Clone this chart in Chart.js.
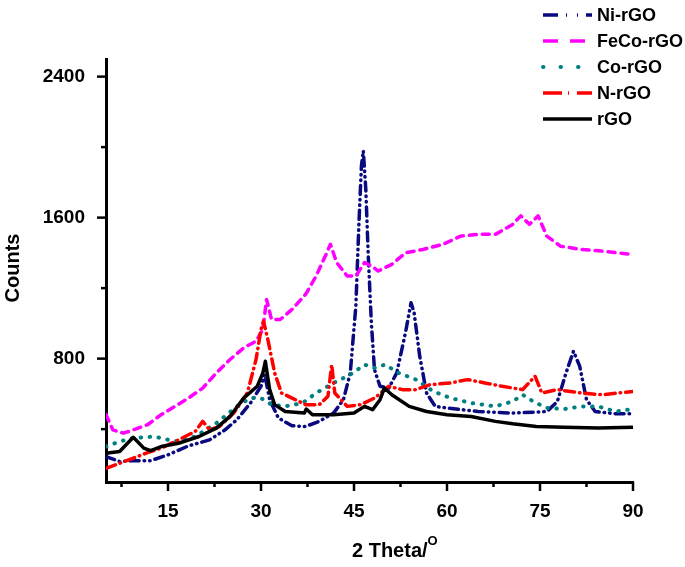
<!DOCTYPE html>
<html>
<head>
<meta charset="utf-8">
<script src="https://cdn.jsdelivr.net/npm/chart.js@4.4.1/dist/chart.umd.min.js"></script>
<style>
  html, body { margin: 0; padding: 0; background: #fff; }
  #wrap { width: 685px; height: 567px; }
</style>
</head>
<body>
<div id="wrap"><canvas id="xrd" width="685" height="567"></canvas></div>
<script>
// 2 Theta values and counts
const niX = [5, 7.2, 9.4, 12.2, 15, 18.3, 21.7, 24.2, 26.1, 28.3, 30, 30.6, 31.4, 32.8, 35, 37.2, 39.4, 41.7, 43.3, 44.4, 45.3, 45.8, 46.2, 46.5, 46.9, 47.3, 47.8, 48.3, 49.2, 50.6, 51.9, 53.3, 54.2, 54.7, 55.6, 56.7, 58.1, 60, 65, 70.6, 76.1, 77.8, 79.2, 80.4, 81.4, 82.5, 83.9, 87.2, 90];
const niY = [244, 216, 221, 221, 254, 305, 339, 396, 453, 548, 643, 709, 567, 463, 419, 415, 444, 491, 567, 719, 1099, 1571, 1894, 1979, 1763, 1383, 1003, 738, 643, 633, 719, 947, 1117, 1060, 814, 605, 529, 520, 500, 491, 500, 557, 719, 842, 757, 567, 500, 487, 487];

const fecoX = [5, 6.1, 7.8, 9.4, 11.7, 13.9, 16.1, 18.3, 20.6, 22.8, 25, 27.2, 29.2, 30.3, 30.9, 31.7, 33.1, 35, 37.2, 38.9, 40.6, 41.2, 42.2, 43.9, 45.3, 46.7, 47.8, 48.9, 51.1, 53.3, 56.1, 59.4, 62.2, 65, 67.8, 70.6, 71.9, 73.3, 74.7, 76.1, 78.3, 81.7, 85, 90];
const fecoY = [482, 396, 377, 396, 425, 482, 529, 576, 633, 719, 795, 861, 899, 966, 1136, 1022, 1022, 1079, 1165, 1269, 1400, 1449, 1345, 1269, 1269, 1345, 1326, 1297, 1335, 1400, 1419, 1449, 1495, 1505, 1505, 1562, 1610, 1562, 1610, 1495, 1438, 1419, 1410, 1391];

const coX = [5, 7.2, 9.4, 12.8, 16.1, 19.4, 22.8, 26.1, 28.3, 30, 31.7, 33.9, 36.7, 38.9, 41.7, 44.4, 46.7, 48.3, 50, 52.2, 55, 57.8, 60.6, 63.9, 67.8, 70.6, 72.2, 73.9, 76.1, 78.9, 81.7, 84.4, 87.2, 90];
const coY = [301, 330, 349, 358, 330, 358, 434, 529, 576, 576, 539, 529, 548, 605, 662, 709, 766, 747, 766, 719, 681, 614, 576, 548, 529, 557, 595, 557, 520, 514, 529, 529, 500, 514];

const nX = [5, 7.2, 9.4, 11.7, 13.9, 16.7, 19.4, 20.6, 21.7, 23.3, 25.6, 27.8, 29.2, 30, 30.4, 31.1, 32.2, 33.3, 35, 37.2, 39.4, 40.8, 41.4, 41.9, 43.9, 46.1, 48.3, 50.6, 52.8, 55, 57.2, 60.6, 63.3, 66.1, 68.9, 72.2, 74.2, 75.3, 77.8, 81.7, 85, 90];
const nY = [178, 206, 235, 267, 292, 339, 387, 444, 396, 415, 491, 605, 795, 966, 1013, 909, 719, 605, 576, 539, 539, 586, 766, 605, 529, 539, 576, 643, 624, 624, 652, 662, 681, 662, 643, 624, 700, 605, 624, 605, 595, 614];

const rgoX = [5, 7.2, 9.4, 11.1, 12.2, 13.9, 16.7, 20, 22.8, 25, 27.2, 29.4, 30.3, 30.7, 31.4, 32.2, 33.9, 37, 37.3, 38.3, 41.7, 45, 46.7, 48, 49.2, 49.9, 51.1, 53.9, 56.7, 60, 63.9, 67.8, 70.6, 74.4, 78.9, 84.4, 90];
const rgoY = [263, 273, 354, 292, 278, 301, 320, 358, 406, 472, 576, 643, 719, 785, 624, 539, 500, 491, 514, 482, 482, 491, 529, 510, 567, 633, 595, 529, 500, 482, 472, 444, 430, 415, 411, 406, 411];

const seriesNames = ['Ni-rGO', 'FeCo-rGO', 'Co-rGO', 'N-rGO', 'rGO'];
const xMajorTicks = [15, 30, 45, 60, 75, 90];
const xMinorTicks = [7.5, 22.5, 37.5, 52.5, 67.5, 82.5];
const yMajorTicks = [800, 1600, 2400];
const yMinorTicks = [400, 1200, 2000];

const pts = (xs, ys) => xs.map((x, i) => ({ x: x, y: ys[i] }));

// line look per series (plot pattern + legend pattern)
const styles = [
  { color: '#0a0a80', dash: [9, 5, 0.5, 5, 0.5, 5], legendDash: [15, 8, 1, 10, 1, 8] },
  { color: '#ff00ff', dash: [7, 6], legendDash: [15, 12] },
  { color: '#008080', dash: [0.5, 8.5], legendDash: [0.5, 17] },
  { color: '#ff0000', dash: [10, 5, 0.5, 5], legendDash: [19, 6, 1, 8] },
  { color: '#000000', dash: [], legendDash: [] }
];

const allData = [pts(niX, niY), pts(fecoX, fecoY), pts(coX, coY), pts(nX, nY), pts(rgoX, rgoY)];

const datasets = allData.map((d, i) => ({
  label: seriesNames[i],
  data: d,
  borderColor: styles[i].color,
  borderWidth: i === 2 ? 4 : 3.5,
  borderDash: styles[i].dash,
  borderCapStyle: styles[i].dash.length ? 'round' : 'butt',
  borderJoinStyle: 'round',
  pointRadius: 0,
  tension: 0,
  fill: false
}));
// draw order: rGO last on top like the original
datasets.reverse();

const FONT = '"Liberation Sans", Arial, sans-serif';

const decorPlugin = {
  id: 'decor',
  afterDraw: (chart) => {
    const { ctx, chartArea, scales: { x, y } } = chart;
    ctx.save();
    ctx.strokeStyle = '#000';
    ctx.lineWidth = 2.5;
    ctx.lineCap = 'butt';
    // x ticks, pointing down
    xMajorTicks.forEach(v => {
      const px = x.getPixelForValue(v);
      ctx.beginPath(); ctx.moveTo(px, chartArea.bottom); ctx.lineTo(px, chartArea.bottom + 9); ctx.stroke();
    });
    xMinorTicks.forEach(v => {
      const px = x.getPixelForValue(v);
      ctx.beginPath(); ctx.moveTo(px, chartArea.bottom); ctx.lineTo(px, chartArea.bottom + 5); ctx.stroke();
    });
    // y ticks, pointing left
    yMajorTicks.forEach(v => {
      const py = y.getPixelForValue(v);
      ctx.beginPath(); ctx.moveTo(chartArea.left, py); ctx.lineTo(chartArea.left - 9, py); ctx.stroke();
    });
    yMinorTicks.forEach(v => {
      const py = y.getPixelForValue(v);
      ctx.beginPath(); ctx.moveTo(chartArea.left, py); ctx.lineTo(chartArea.left - 5, py); ctx.stroke();
    });

    // axis titles
    ctx.fillStyle = '#000';
    ctx.font = 'bold 20px ' + FONT;
    ctx.textBaseline = 'middle';
    ctx.textAlign = 'left';
    const t = '2 Theta/';
    ctx.fillText(t, 352, 551);
    const tw = ctx.measureText(t).width;
    ctx.font = 'bold 13px ' + FONT;
    ctx.fillText('O', 352 + tw, 541);

    ctx.save();
    ctx.translate(13, 268);
    ctx.rotate(-Math.PI / 2);
    ctx.textAlign = 'center';
    ctx.font = 'bold 20px ' + FONT;
    ctx.fillText('Counts', 0, 0);
    ctx.restore();

    // legend
    const rowY = [15, 41, 67, 93, 119];
    const ends = [592, 585, 580, 592, 592];
    ctx.font = 'bold 18px ' + FONT;
    ctx.textAlign = 'left';
    seriesNames.forEach((name, i) => {
      ctx.beginPath();
      ctx.setLineDash(styles[i].legendDash);
      ctx.lineCap = i === 2 ? 'round' : 'butt';
      ctx.lineWidth = i === 2 ? 4 : 3.5;
      ctx.strokeStyle = styles[i].color;
      ctx.moveTo(543, rowY[i]);
      ctx.lineTo(ends[i], rowY[i]);
      ctx.stroke();
      ctx.setLineDash([]);
      ctx.fillText(name, 597, rowY[i] + 1);
    });
    ctx.restore();
  }
};

new Chart(document.getElementById('xrd').getContext('2d'), {
  type: 'line',
  data: { datasets: datasets },
  options: {
    responsive: false,
    animation: false,
    layout: { padding: { top: 59, right: 52, left: 0, bottom: 0 } },
    plugins: { legend: { display: false }, tooltip: { enabled: false } },
    scales: {
      x: {
        type: 'linear',
        min: 5,
        max: 90,
        afterBuildTicks: (s) => { s.ticks = xMajorTicks.map(v => ({ value: v })); },
        afterFit: (s) => { s.height = 85; },
        grid: { display: false },
        border: { display: true, color: '#000', width: 3 },
        ticks: {
          color: '#000',
          padding: 10,
          maxRotation: 0,
          callback: (v) => String(v),
          font: { family: FONT, size: 19, weight: 'bold' }
        }
      },
      y: {
        type: 'linear',
        min: 100,
        max: 2500,
        afterBuildTicks: (s) => { s.ticks = yMajorTicks.map(v => ({ value: v })); },
        afterFit: (s) => { s.width = 106; },
        grid: { display: false },
        border: { display: true, color: '#000', width: 3 },
        ticks: {
          color: '#000',
          padding: 13,
          callback: (v) => String(v),
          font: { family: FONT, size: 19, weight: 'bold' }
        }
      }
    }
  },
  plugins: [decorPlugin]
});
</script>
</body>
</html>
